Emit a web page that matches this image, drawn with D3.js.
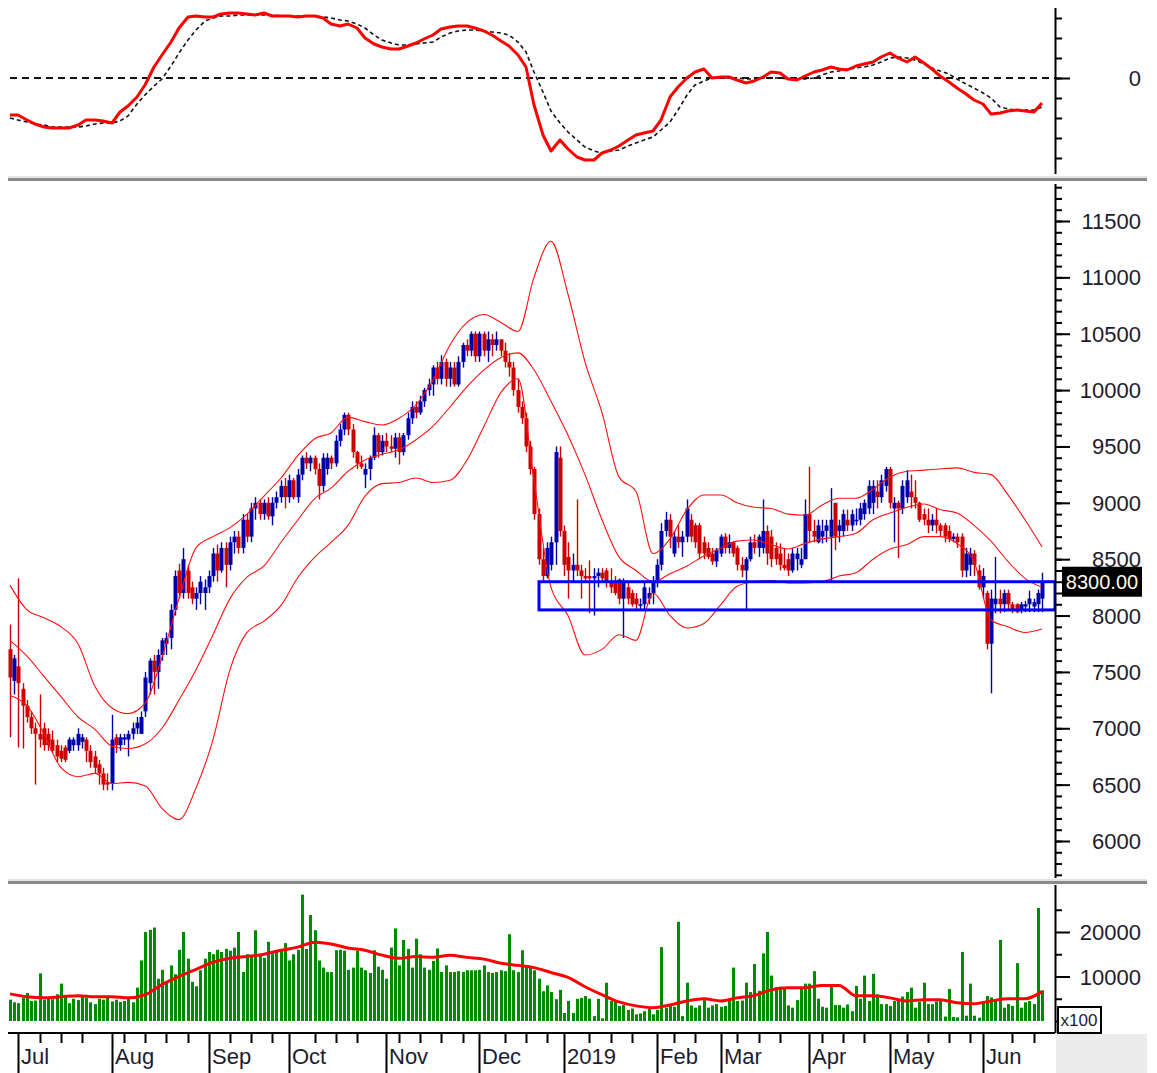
<!DOCTYPE html>
<html>
<head>
<meta charset="utf-8">
<style type="text/css">
  body { margin: 0; background: #fff; }
  svg { display: block; font-family: "Liberation Sans", Arial, sans-serif; }
  .tick line { stroke: #000; stroke-width: 2; }
</style>
</head>
<body>
<svg></svg>
<script src="https://d3js.org/d3.v7.min.js"></script>
<script>
    var width = 1157;
    var height = 1073;

    /* daily bars, late Jun 2018 .. Jun 2019 */
    var opens = [7700,7420,7550,7350,7200,7100,7000,6950,7000,6950,6900,6850,6800,6830,6800,6850,6850,6880,6900,6800,
      6750,6680,6600,6520,6510,6920,6850,6900,6900,6950,7000,6950,7150,7400,7600,7500,7650,7750,7800,8050,
      8400,8200,8400,8250,8150,8200,8200,8250,8350,8550,8400,8600,8450,8650,8700,8600,8850,8700,8950,9000,
      8900,9000,8880,9000,9050,9150,9050,9200,9050,9250,9400,9350,9400,9300,9150,9300,9400,9350,9550,9650,
      9780,9650,9450,9350,9250,9300,9400,9600,9450,9550,9500,9480,9580,9450,9600,9750,9850,9800,9900,10000,
      10050,10200,10100,10250,10100,10200,10050,10250,10400,10350,10500,10300,10500,10350,10450,10400,10450,10350,10250,10200,
      10000,9850,9750,9500,9300,8900,8500,8350,8450,8650,9400,8750,8520,8400,8450,8400,8350,8350,8330,8350,
      8380,8400,8300,8300,8320,8150,8250,8200,8150,8100,8100,8150,8200,8300,8450,8750,8850,8550,8700,8650,
      8700,8850,8800,8800,8650,8600,8550,8480,8550,8700,8600,8650,8600,8450,8400,8500,8650,8600,8600,8750,
      8700,8600,8550,8450,8500,8400,8500,8450,8500,8900,8750,8650,8700,8750,8700,9000,8750,8750,8850,8800,
      8850,8850,8900,8950,9000,9100,9050,9150,9300,8950,9000,8950,9050,9100,9050,9000,8900,8850,8800,8850,
      8800,8800,8750,8680,8700,8700,8400,8450,8550,8400,8250,8200,7750,8100,8150,8100,8200,8100,8100,8050,
      8080,8100,8080,8100,8150];
    var highs = [7920,7650,8330,7400,7250,7150,7050,7300,7050,7000,6980,6900,6850,6850,6920,6920,7000,6950,6920,6850,
      6800,6720,6650,6600,7120,6950,6950,6950,6980,7050,7100,7150,7500,7620,7650,7700,7800,7850,8100,8400,
      8460,8600,8450,8300,8250,8350,8320,8400,8600,8630,8650,8650,8700,8750,8750,8900,8900,9000,9050,9030,
      9030,9050,9050,9100,9200,9220,9250,9220,9300,9420,9450,9420,9420,9350,9440,9440,9420,9600,9700,9800,
      9800,9700,9460,9420,9350,9420,9670,9620,9600,9620,9600,9620,9620,9620,9800,9900,9900,9950,10020,10100,
      10220,10250,10310,10280,10250,10250,10300,10420,10450,10520,10520,10520,10520,10520,10500,10520,10450,10420,10330,10250,
      10100,9900,9800,9550,9320,8950,8600,8650,8700,9500,9500,8800,8650,8550,9030,8450,8420,8490,8420,8420,
      8420,8420,8420,8350,8330,8330,8300,8230,8200,8150,8300,8250,8350,8500,8820,8920,8900,8750,8800,8750,
      9030,8900,8820,8820,8700,8650,8600,8600,8720,8730,8720,8660,8620,8520,8520,8700,8720,8720,9030,8800,
      8760,8650,8640,8600,8550,8600,8600,8600,9030,9320,8850,8850,8850,8850,9130,9000,8850,8940,8940,8940,
      8950,9000,9030,9200,9200,9200,9250,9320,9320,9050,9020,9200,9290,9250,9200,9010,8950,8950,8900,8950,
      8820,8820,8800,8730,8730,8730,8600,8600,8580,8450,8420,8220,8230,8520,8230,8230,8230,8120,8110,8120,
      8130,8220,8150,8230,8380];
    var lows = [6920,7300,6830,6820,7050,6950,6500,6830,6800,6800,6780,6700,6700,6700,6780,6800,6800,6820,6700,6650,
      6600,6500,6450,6450,6450,6780,6800,6850,6750,6900,6950,6950,7100,7300,7300,7350,7600,7650,7700,8000,
      8150,8150,8150,8100,8050,8100,8050,8200,8300,8300,8380,8250,8400,8550,8550,8550,8650,8650,8850,8850,
      8850,8850,8800,8950,9000,8950,9000,9030,9000,9200,9300,9280,9250,9030,9100,9250,9300,9320,9500,9600,
      9600,9400,9300,9300,9130,9200,9380,9400,9420,9450,9450,9400,9340,9420,9560,9700,9750,9780,9850,9950,
      9950,10050,10050,10030,10030,10030,10030,10200,10300,10300,10250,10250,10300,10250,10300,10350,10300,10200,10120,9950,
      9800,9700,9450,9250,8850,8450,8300,8330,8400,8450,8700,8350,8150,8300,8350,8150,8300,8020,8000,8250,
      8300,8250,8200,8180,8100,7800,8100,8080,8050,8050,8050,8100,8100,8250,8400,8700,8600,8520,8600,8520,
      8650,8650,8600,8500,8500,8500,8450,8430,8520,8550,8550,8520,8400,8340,8050,8480,8550,8520,8550,8450,
      8430,8450,8400,8400,8350,8380,8400,8420,8500,8650,8650,8640,8640,8650,8300,8580,8650,8700,8750,8750,
      8800,8800,8850,8900,8900,8950,9000,9100,8950,8650,8510,8900,9000,8950,8950,8830,8800,8730,8750,8730,
      8700,8650,8650,8650,8600,8340,8340,8350,8350,8230,8150,7700,7310,8020,8020,8030,8050,8020,8020,8020,
      8030,8030,8030,8030,8030];
    var closes = [7450,7620,7400,7200,7100,7000,6950,6900,6850,6850,6800,6750,6730,6720,6900,6900,6950,6920,6800,6700,
      6650,6600,6500,6500,6900,6850,6920,6920,6950,7000,7050,7100,7450,7600,7500,7650,7780,7800,8050,8350,
      8200,8500,8200,8150,8200,8300,8250,8350,8550,8400,8600,8450,8650,8700,8600,8850,8700,8950,9000,8900,
      9000,8880,9000,9050,9150,9050,9200,9050,9250,9400,9350,9400,9300,9150,9400,9400,9350,9550,9650,9780,
      9650,9450,9350,9320,9300,9400,9600,9450,9550,9500,9480,9580,9450,9600,9750,9850,9800,9900,10000,10050,
      10200,10100,10250,10100,10200,10050,10250,10400,10350,10500,10300,10500,10350,10450,10400,10450,10350,10250,10200,10000,
      9850,9750,9500,9300,8900,8500,8350,8600,8650,9450,8750,8450,8400,8450,8400,8350,8330,8330,8350,8380,
      8330,8300,8250,8200,8150,8300,8150,8100,8100,8100,8250,8200,8300,8450,8750,8850,8700,8700,8650,8700,
      8950,8700,8650,8550,8550,8520,8480,8580,8700,8600,8650,8550,8450,8400,8500,8650,8600,8700,8750,8550,
      8500,8500,8450,8420,8400,8550,8550,8500,8900,8750,8700,8800,8750,8800,8850,8700,8800,8900,8800,8900,
      8850,8950,9000,9150,9150,9050,9200,9300,9000,9000,8950,9150,9200,9050,9000,8850,8850,8800,8850,8800,
      8750,8700,8680,8700,8650,8400,8550,8550,8450,8250,8350,7750,8150,8150,8100,8200,8100,8050,8030,8100,
      8100,8150,8120,8200,8300];
    /* volume, x100 */
    var volumes = [4800,4200,4000,5200,6300,4500,4600,10700,4800,5000,4900,6000,8400,5500,4000,5000,4700,5800,5200,4200,
      3800,5000,4800,5200,4400,4800,4300,4500,5000,4200,7500,13600,20000,20500,21000,9500,11500,9000,12500,10500,
      16000,20000,14000,8800,7800,11400,14000,15500,15000,16000,15500,16200,15800,16500,20000,11000,15000,14500,20400,15000,
      14200,17800,15500,15800,16000,17500,13600,15000,16000,28400,16200,23800,20400,13600,12000,11000,11000,15900,16000,15800,
      11500,12000,15800,12000,11400,10800,15900,12200,11500,9500,16500,20800,12500,18200,16200,12000,18500,15000,12000,11500,
      13500,16300,11000,12500,11000,11000,11200,11000,11400,11400,11400,11500,12500,11000,10800,11000,11400,11200,19500,11400,
      11000,15900,12000,12000,11400,9500,6700,8000,6500,4900,7000,1800,4500,1800,5000,5200,5600,5000,1100,5000,
      600,8600,4500,4500,3400,3600,2500,2800,1500,1700,2200,3000,1500,2500,16600,3000,3500,3200,22300,1100,
      8600,3500,3000,3500,4700,3000,3500,3800,3200,3400,4700,12000,4500,4600,8600,6500,12800,6800,15200,20000,
      10200,7600,7700,7600,3500,3000,4700,7500,8400,8400,11200,5000,3200,3000,7700,3600,3600,3000,3700,2200,
      7900,5000,10200,4500,10600,6000,3800,3800,3400,4500,4500,5500,6500,7500,3000,4300,8600,3800,3800,4400,
      4500,1000,7200,900,800,15500,1200,8400,1200,750,4500,5600,5300,4900,18200,3000,3800,3400,13000,3000,
      4200,4500,3800,25400,6900];

    /* oscillator, read every 2nd bar */
    var macdLine = [-185,-185,-210,-230,-245,-250,-250,-250,-235,-210,-210,-215,-225,-170,-140,-95,-35,55,115,180,
      250,305,310,305,305,320,325,325,320,315,325,310,310,310,305,310,310,300,270,260,
      270,250,200,170,155,145,145,160,175,195,215,245,255,260,260,250,235,215,185,160,
      115,55,-135,-285,-365,-310,-355,-395,-410,-410,-375,-360,-340,-310,-285,-275,-265,-210,-95,-45,
      0,30,45,0,5,5,-10,-25,-15,5,30,25,-5,-10,10,30,40,55,45,40,
      60,70,80,105,125,100,80,105,75,45,10,-20,-50,-80,-110,-130,-180,-175,-165,-160,
      -165,-170,-125];
    var signalLine = [-200,-210,-220,-230,-235,-245,-245,-245,-245,-240,-230,-225,-225,-215,-190,-130,-85,-40,-5,60,
      125,190,240,285,300,310,310,315,315,315,315,315,310,310,310,310,310,305,300,290,
      285,270,250,215,190,175,165,165,170,175,180,205,225,235,240,240,235,230,225,215,
      180,130,30,-70,-165,-225,-270,-310,-345,-365,-375,-365,-360,-340,-325,-310,-295,-260,-220,-160,
      -85,-35,-15,0,0,0,0,-5,-5,0,0,0,-5,-5,-5,0,15,30,35,45,
      50,55,65,80,100,105,100,90,70,50,35,20,-5,-30,-50,-75,-100,-145,-155,-160,
      -160,-160,-145];

    /* bollinger bands and volume average, read every 4th bar */
    var bandUpper = [8270,8050,7980,7900,7750,7370,7180,7130,7220,7630,8150,8600,8700,8780,8900,9060,9220,9420,9570,9620,
      9760,9720,9690,9750,9870,10090,10400,10600,10670,10600,10520,11000,11320,10850,10250,9800,9230,9100,8550,8680,
      8940,9070,9070,9000,8960,8950,8900,8890,8980,9040,9040,9120,9230,9280,9290,9300,9310,9270,9250,9070,
      8850,8610];
    var bandMiddle = [7780,7640,7460,7280,7100,6990,6840,6820,6860,7000,7250,7520,7830,8150,8340,8440,8650,8850,9040,9130,
      9280,9380,9430,9470,9560,9680,9850,10030,10180,10290,10330,10180,9900,9600,9250,8850,8520,8400,8300,8370,
      8440,8530,8600,8660,8670,8630,8590,8640,8680,8700,8730,8850,8910,8960,8990,8940,8910,8800,8660,8480,
      8330,8250];
    var bandLower = [7290,7200,6950,6650,6570,6600,6510,6520,6490,6290,6190,6470,6900,7520,7850,7950,8090,8340,8520,8650,
      8800,9060,9170,9180,9220,9180,9200,9380,9680,9980,10100,9200,8250,8000,7650,7700,7830,7780,8200,8000,
      7890,7930,8100,8260,8300,8310,8290,8290,8300,8350,8380,8500,8590,8630,8700,8700,8640,8480,7960,7900,
      7850,7880];
    var volumeAvg = [6100,5450,5200,5450,5700,5450,5450,5200,5900,8200,10000,11600,13200,14100,14500,15000,15900,16600,17700,17300,
      16400,15900,14800,14100,14500,14300,14800,14300,13900,13000,12500,12000,10900,9800,7700,5900,4300,3400,3000,3600,
      4500,5000,4500,5200,5700,7000,7500,7500,8000,8000,5700,5700,5200,4500,4800,4800,4100,3900,4500,5000,
      5000,6600];

    /* time axis */
    var monthLabels = ["Jul","Aug","Sep","Oct","Nov","Dec","2019","Feb","Mar","Apr","May","Jun"];
    var monthStarts = [2,24,47,66,89,111,131,153,168,189,208,230];

    /* support zone */
    var supportTop = 8300;
    var supportBottom = 8050;
    var supportStart = 125;
    var lastPrice = 8300;

    var priceTicks = d3.range(6000, 11501, 500);
    var volumeTicks = [10000, 20000];

    var blue = '#0000a8', red = '#cc0000', textColor = '#1c1c30';
    var axisX = 1055;

    var svg = d3.select('svg')
      .attr('width', width)
      .attr('height', height);

    var x = d3.scaleLinear().domain([0, closes.length - 1]).rangeRound([10, 1042]);
    var yMacd = d3.scaleLinear().domain([-400, 300]).range([158, 18]);
    var yPrice = d3.scaleLinear().domain([6000, 11500]).range([841, 221]);
    var yVol = d3.scaleLinear().domain([0, 20000]).range([1021, 932]);

    var bars = closes.map(function(c, i) {
      return {i: i, o: opens[i], h: highs[i], l: lows[i], c: c, v: volumes[i]};
    });

    /* ---------- oscillator panel ---------- */
    svg.append('line')
      .attr('x1', 10).attr('x2', axisX)
      .attr('y1', yMacd(0)).attr('y2', yMacd(0))
      .attr('stroke', '#111').attr('stroke-width', 2)
      .attr('stroke-dasharray', '7,5');

    var lineEvery2 = d3.line()
      .x(function(d, k) { return x(k * 2); })
      .y(function(d) { return yMacd(d); });

    svg.append('path')
      .datum(signalLine)
      .attr('d', lineEvery2)
      .attr('fill', 'none')
      .attr('stroke', '#111').attr('stroke-width', 1.6)
      .attr('stroke-dasharray', '4,3');

    svg.append('path')
      .datum(macdLine)
      .attr('d', lineEvery2)
      .attr('fill', 'none')
      .attr('stroke', '#ff0000').attr('stroke-width', 3)
      .attr('stroke-linejoin', 'round');

    svg.append('g')
      .attr('transform', 'translate(' + axisX + ',0)')
      .call(d3.axisRight(yMacd).tickValues(d3.range(-400, 301, 100)).tickSize(7).tickFormat(''))
      .call(function(g) { g.select('.domain').remove(); });
    svg.append('g')
      .attr('transform', 'translate(' + axisX + ',0)')
      .call(d3.axisRight(yMacd).tickValues([0]).tickSize(15).tickFormat(''))
      .call(function(g) { g.select('.domain').remove(); });
    svg.append('text')
      .attr('x', 1141).attr('y', yMacd(0) + 8)
      .attr('text-anchor', 'end')
      .attr('font-size', 22).attr('fill', textColor)
      .text('0');

    /* ---------- price panel ---------- */
    svg.append('clipPath').attr('id', 'mainClip')
      .append('rect').attr('x', 0).attr('y', 184).attr('width', axisX).attr('height', 694);
    var main = svg.append('g').attr('clip-path', 'url(#mainClip)');

    function barColor(d) { return d.c >= d.o ? blue : red; }

    var candle = main.append('g')
      .selectAll('g')
      .data(bars)
      .enter()
      .append('g');

    candle.append('line')
      .attr('x1', function(d) { return x(d.i) + 0.5; })
      .attr('x2', function(d) { return x(d.i) + 0.5; })
      .attr('y1', function(d) { return yPrice(d.h); })
      .attr('y2', function(d) { return yPrice(d.l); })
      .attr('stroke', barColor)
      .attr('stroke-width', 1.4);

    candle.append('rect')
      .attr('x', function(d) { return x(d.i) - 1.5; })
      .attr('width', 4)
      .attr('y', function(d) { return yPrice(Math.max(d.o, d.c)); })
      .attr('height', function(d) { return Math.max(1.5, Math.abs(yPrice(d.o) - yPrice(d.c))); })
      .attr('fill', barColor);

    var lineEvery4 = d3.line()
      .curve(d3.curveMonotoneX)
      .x(function(d, k) { return x(k * 4); })
      .y(function(d) { return yPrice(d); });

    [bandUpper, bandMiddle, bandLower].forEach(function(band) {
      main.append('path')
        .datum(band)
        .attr('d', lineEvery4)
        .attr('fill', 'none')
        .attr('stroke', '#ff1010')
        .attr('stroke-width', 1.1);
    });

    main.append('rect')
      .attr('x', x(supportStart))
      .attr('y', yPrice(supportTop))
      .attr('width', axisX - x(supportStart))
      .attr('height', yPrice(supportBottom) - yPrice(supportTop))
      .attr('fill', 'none')
      .attr('stroke', '#0000ff')
      .attr('stroke-width', 3);

    svg.append('g')
      .attr('transform', 'translate(' + axisX + ',0)')
      .call(d3.axisRight(yPrice).tickValues(d3.range(5700, 11801, 100)).tickSize(7).tickFormat(''))
      .call(function(g) { g.select('.domain').remove(); });
    svg.append('g')
      .attr('transform', 'translate(' + axisX + ',0)')
      .call(d3.axisRight(yPrice).tickValues(priceTicks).tickSize(15).tickFormat(''))
      .call(function(g) { g.select('.domain').remove(); });

    svg.append('g')
      .selectAll('text')
      .data(priceTicks)
      .enter()
      .append('text')
      .attr('x', 1141)
      .attr('y', function(d) { return yPrice(d) + 8; })
      .attr('text-anchor', 'end')
      .attr('font-size', 22)
      .attr('fill', textColor)
      .text(function(d) { return d; });

    svg.append('rect')
      .attr('x', 1062).attr('y', yPrice(lastPrice) - 15)
      .attr('width', 80).attr('height', 30)
      .attr('fill', '#000');
    svg.append('text')
      .attr('x', 1102).attr('y', yPrice(lastPrice) + 7)
      .attr('text-anchor', 'middle')
      .attr('font-size', 20)
      .attr('fill', '#fff8e8')
      .text(d3.format('.2f')(lastPrice));

    /* ---------- volume panel ---------- */
    svg.append('g')
      .selectAll('rect')
      .data(bars)
      .enter()
      .append('rect')
      .attr('x', function(d) { return x(d.i) - 1; })
      .attr('width', 3)
      .attr('y', function(d) { return yVol(d.v); })
      .attr('height', function(d) { return yVol(0) - yVol(d.v); })
      .attr('fill', '#008a00');

    svg.append('path')
      .datum(volumeAvg)
      .attr('d', d3.line()
        .curve(d3.curveMonotoneX)
        .x(function(d, k) { return x(k * 4); })
        .y(function(d) { return yVol(d); }))
      .attr('fill', 'none')
      .attr('stroke', '#ff0000')
      .attr('stroke-width', 3);

    svg.append('g')
      .attr('transform', 'translate(' + axisX + ',0)')
      .call(d3.axisRight(yVol).tickValues([0, 5000, 15000, 25000]).tickSize(7).tickFormat(''))
      .call(function(g) { g.select('.domain').remove(); });
    svg.append('g')
      .attr('transform', 'translate(' + axisX + ',0)')
      .call(d3.axisRight(yVol).tickValues(volumeTicks).tickSize(15).tickFormat(''))
      .call(function(g) { g.select('.domain').remove(); });
    svg.append('g')
      .selectAll('text')
      .data(volumeTicks)
      .enter()
      .append('text')
      .attr('x', 1141)
      .attr('y', function(d) { return yVol(d) + 8; })
      .attr('text-anchor', 'end')
      .attr('font-size', 22)
      .attr('fill', textColor)
      .text(function(d) { return d; });

    svg.append('rect')
      .attr('x', 1058).attr('y', 1007).attr('width', 43).attr('height', 26)
      .attr('fill', '#fff').attr('stroke', '#000').attr('stroke-width', 2);
    svg.append('text')
      .attr('x', 1079).attr('y', 1026)
      .attr('text-anchor', 'middle')
      .attr('font-size', 17)
      .attr('fill', textColor)
      .text('x100');

    /* ---------- frame: right axis line, separators ---------- */
    [[8, 174], [184, 878], [885, 1033]].forEach(function(seg) {
      svg.append('line')
        .attr('x1', axisX + 0.5).attr('x2', axisX + 0.5)
        .attr('y1', seg[0]).attr('y2', seg[1])
        .attr('stroke', '#000').attr('stroke-width', 2);
    });

    [176, 879].forEach(function(yy) {
      svg.append('rect').attr('x', 8).attr('y', yy).attr('width', 1139).attr('height', 2).attr('fill', '#e4e4e4');
      svg.append('rect').attr('x', 8).attr('y', yy + 2).attr('width', 1139).attr('height', 3).attr('fill', '#8a8a8a');
    });

    /* ---------- time axis ---------- */
    svg.append('line')
      .attr('x1', 8).attr('x2', axisX)
      .attr('y1', 1033).attr('y2', 1033)
      .attr('stroke', '#000').attr('stroke-width', 2);

    svg.append('rect')
      .attr('x', axisX + 1).attr('y', 1034)
      .attr('width', 91).attr('height', 39)
      .attr('fill', '#ececec');

    var weekTicks = d3.range(2, closes.length, 5).filter(function(i) {
      return monthStarts.every(function(m) { return Math.abs(m - i) > 2; });
    });

    svg.append('g')
      .attr('transform', 'translate(0,1033)')
      .call(d3.axisBottom(x).tickValues(weekTicks).tickSize(10).tickFormat(''))
      .call(function(g) { g.select('.domain').remove(); });
    svg.append('g')
      .attr('transform', 'translate(0,1033)')
      .call(d3.axisBottom(x).tickValues(monthStarts).tickSize(40).tickFormat(''))
      .call(function(g) { g.select('.domain').remove(); });

    svg.append('g')
      .selectAll('text')
      .data(monthStarts)
      .enter()
      .append('text')
      .attr('x', function(d) { return x(d) + 3; })
      .attr('y', 1064)
      .attr('font-size', 22)
      .attr('fill', textColor)
      .text(function(d, k) { return monthLabels[k]; });
</script>
</body>
</html>
